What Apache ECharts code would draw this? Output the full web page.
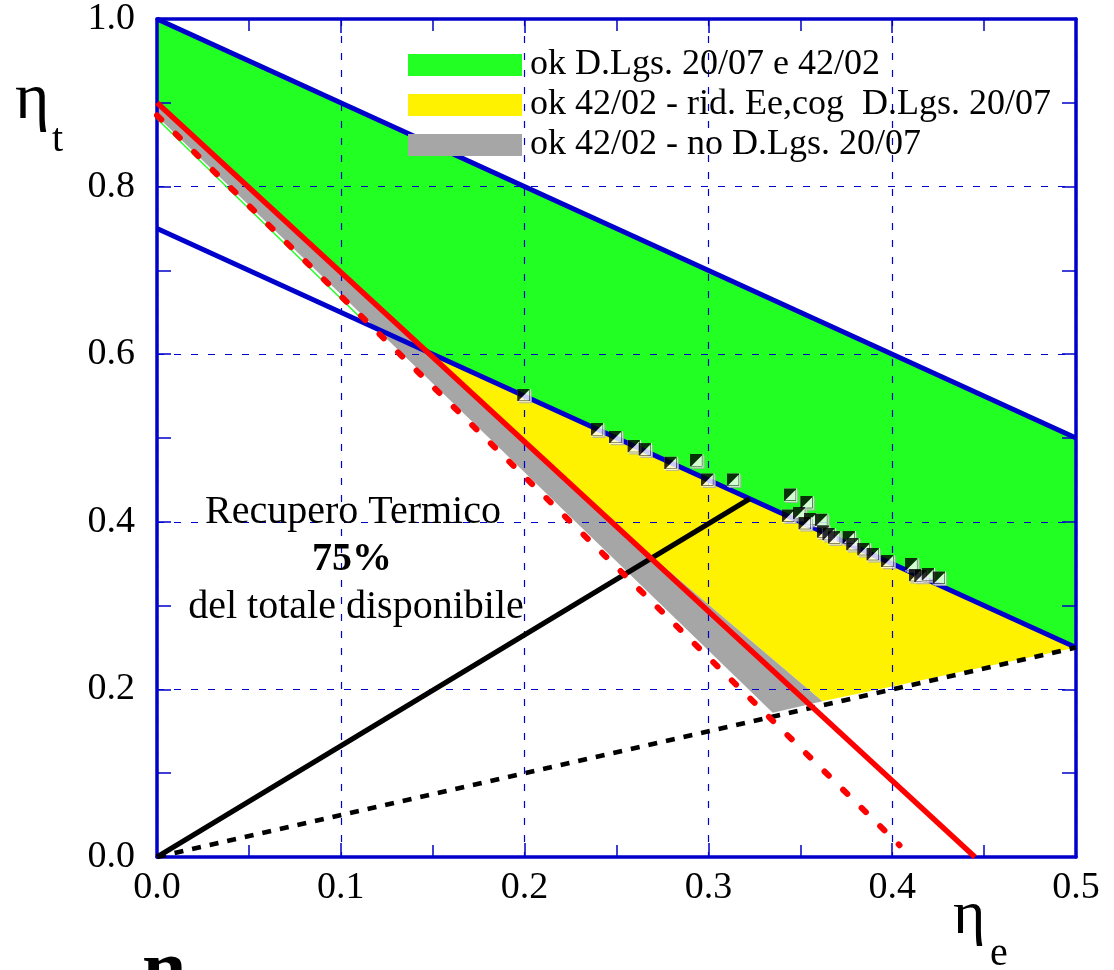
<!DOCTYPE html>
<html><head><meta charset="utf-8">
<script src="https://cdn.jsdelivr.net/npm/echarts@6/dist/echarts.min.js"></script>
<style>html,body{margin:0;padding:0;background:#fff}#c{width:1114px;height:970px}</style>
</head><body><div id="c"></div>
<script>
// ---- data ----
const legendNames = ['ok D.Lgs. 20/07 e 42/02', 'ok 42/02 - rid. Ee,cog  D.Lgs. 20/07', 'ok 42/02 - no D.Lgs. 20/07'];
const greenRegion = [[0, 1.0], [0.5, 0.5], [0.5, 0.25], [0.15, 0.6], [0, 0.9]];
const yellowRegion = [[0.15, 0.6], [0.5, 0.25], [0.362, 0.186], [0.27, 0.357]];
const grayRegion = [[0, 0.9], [0.27, 0.357], [0.362, 0.186], [0.335, 0.172], [0, 0.884]];
const greenEdge = [[0, 0.881], [0.11, 0.645]];
const blueUpper = [[0, 1.0], [0.5, 0.5]];
const blueLower = [[0, 0.75], [0.5, 0.25]];
const redSolid = [[0, 0.9], [0.445, 0.0]];
const redDashed = [[0, 0.885], [0.404, 0.014]];
const blackSolid = [[0, 0], [0.3225, 0.4275]];
const blackDashed = [[0, 0], [0.5, 0.25]];
const markers = [
  [0.200, 0.550], [0.240, 0.509], [0.250, 0.500], [0.260, 0.489], [0.266, 0.485], [0.280, 0.469],
  [0.294, 0.472], [0.300, 0.449], [0.314, 0.449], [0.345, 0.431], [0.354, 0.422], [0.344, 0.406],
  [0.350, 0.409], [0.356, 0.402], [0.362, 0.401], [0.353, 0.397], [0.363, 0.387], [0.366, 0.384],
  [0.369, 0.380], [0.377, 0.380], [0.379, 0.372], [0.385, 0.366], [0.390, 0.360], [0.398, 0.352],
  [0.411, 0.348], [0.413, 0.335], [0.416, 0.334], [0.420, 0.336], [0.426, 0.332]
];
const annotation = ['Recupero Termico', '75%', 'del totale disponibile'];

// ---- styles ----
const BLUE = '#0000cc';
const SERIF = '"Liberation Serif", "Times New Roman", serif';
const markerSvg = "<svg xmlns='http://www.w3.org/2000/svg' width='15' height='15'>" +
  "<rect x='2' y='2' width='13' height='13' fill='#b0b0b0'/>" +
  "<rect x='0' y='0' width='13.5' height='13.5' fill='#ffffff'/>" +
  "<rect x='0' y='0' width='12.5' height='12.5' fill='#000000'/>" +
  "<polygon points='12,1.5 12,12 1.5,12' fill='#ffffff'/></svg>";
const markerSymbol = 'image://data:image/svg+xml;utf8,' + encodeURIComponent(markerSvg);

function fillSeries(name, region, color) {
  return {
    type: 'custom', name: name, z: 0, silent: true, clip: true,
    itemStyle: { color: color },
    data: region,
    renderItem: function (params, api) {
      if (params.dataIndex !== 0) return null;
      return {
        type: 'polygon',
        shape: { points: region.map(p => api.coord(p)) },
        style: { fill: color, stroke: null }
      };
    }
  };
}
function lineSeries(data, color, width, type, cap, z) {
  return {
    type: 'line', data: data, symbol: 'none', silent: true, z: z || 3,
    lineStyle: { color: color, width: width, type: type || 'solid', cap: cap || 'butt' }
  };
}

const axisCommon = {
  type: 'value', z: 1,
  axisLine: { show: true, onZero: false, lineStyle: { color: BLUE, width: 3.5 } },
  axisTick: { show: true, inside: true, length: 14, lineStyle: { color: BLUE, width: 1.5 } },
  splitLine: { show: false }
};
const gridLine = { show: true, lineStyle: { color: BLUE, width: 1.2, type: [7, 10] } };

const chart = echarts.init(document.getElementById('c'));
chart.setOption({
  animation: false,
  backgroundColor: '#ffffff',
  grid: { left: 157, right: 38, top: 18, bottom: 113, containLabel: false },
  legend: {
    orient: 'vertical', left: 403, top: 42, itemWidth: 114, itemHeight: 22, itemGap: 4,
    icon: 'rect', selectedMode: false,
    data: legendNames,
    textStyle: { fontFamily: SERIF, fontSize: 36, color: '#000', padding: [0, 0, 0, 3] }
  },
  xAxis: [
    Object.assign({}, axisCommon, {
      position: 'bottom', min: 0, max: 0.5, interval: 0.1,
      minorTick: { show: true, splitNumber: 2, length: 12, lineStyle: { color: BLUE, width: 1.5 } },
      axisLabel: { show: true, margin: 12, fontFamily: SERIF, fontSize: 38, color: '#000',
        formatter: v => v.toFixed(1) },
      splitLine: gridLine
    }),
    Object.assign({}, axisCommon, {
      position: 'top', min: 0, max: 0.5, interval: 0.1,
      minorTick: { show: true, splitNumber: 2, length: 12, lineStyle: { color: BLUE, width: 1.5 } },
      axisLabel: { show: false }
    })
  ],
  yAxis: [
    Object.assign({}, axisCommon, {
      position: 'left', min: 0, max: 1, interval: 0.2,
      minorTick: { show: true, splitNumber: 2, length: 14, lineStyle: { color: BLUE, width: 1.5 } },
      axisLabel: { show: true, margin: 22, fontFamily: SERIF, fontSize: 38, color: '#000',
        formatter: v => v.toFixed(1) },
      splitLine: gridLine
    }),
    Object.assign({}, axisCommon, {
      position: 'right', min: 0, max: 1, interval: 0.2,
      minorTick: { show: true, splitNumber: 2, length: 14, lineStyle: { color: BLUE, width: 1.5 } },
      axisLabel: { show: false }
    })
  ],
  series: [
    fillSeries(legendNames[0], greenRegion, '#22ff22'),
    fillSeries(legendNames[1], yellowRegion, '#fff200'),
    fillSeries(legendNames[2], grayRegion, '#a6a6a6'),
    lineSeries(greenEdge, '#22ff22', 1.5, 'solid', 'butt', 2),
    lineSeries(blueUpper, BLUE, 5),
    lineSeries(blueLower, BLUE, 5),
    lineSeries(blackDashed, '#000', 4.5, [9, 9]),
    lineSeries(blackSolid, '#000', 5),
    lineSeries(redDashed, '#ff0000', 6, [6, 20], 'round'),
    lineSeries(redSolid, '#ff0000', 5.5),
    {
      type: 'scatter', data: markers, symbol: markerSymbol, symbolSize: 15, z: 5, silent: true
    }
  ],
  graphic: [
    { type: 'text', left: 15, top: 68, z: 10, style: { text: 'η', font: '66px ' + SERIF, fill: '#000' } },
    { type: 'text', left: 52, top: 120, z: 10, style: { text: 't', font: '40px ' + SERIF, fill: '#000' } },
    { type: 'text', left: 953, top: 886, z: 10, style: { text: 'η', font: '62px ' + SERIF, fill: '#000' } },
    { type: 'text', left: 990, top: 934, z: 10, style: { text: 'e', font: '40px ' + SERIF, fill: '#000' } },
    { type: 'text', left: 143, top: 935, z: 10, style: { text: 'η', font: 'bold 76px ' + SERIF, fill: '#000' } },
    { type: 'text', x: 353, y: 512, z: 10, style: { text: annotation[0], font: '40px ' + SERIF, fill: '#000', align: 'center', verticalAlign: 'middle' } },
    { type: 'text', x: 352, y: 560, z: 10, style: { text: annotation[1], font: 'bold 40px ' + SERIF, fill: '#000', align: 'center', verticalAlign: 'middle' } },
    { type: 'text', x: 356, y: 607, z: 10, style: { text: annotation[2], font: '40px ' + SERIF, fill: '#000', align: 'center', verticalAlign: 'middle' } }
  ]
});
</script></body></html>
